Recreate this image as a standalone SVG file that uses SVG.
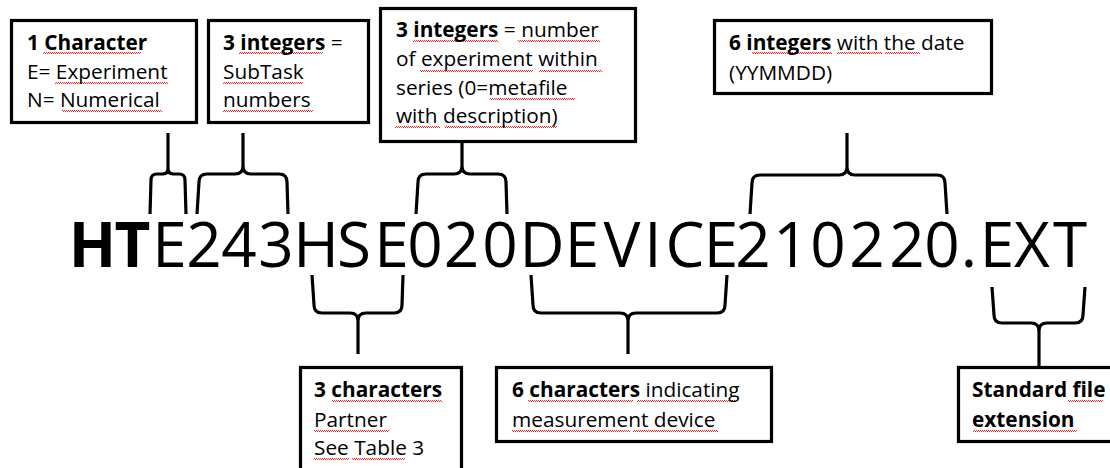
<svg xmlns="http://www.w3.org/2000/svg" width="1110" height="468" viewBox="0 0 1110 468">
  <defs>
    <pattern id="sq" width="2" height="2" patternUnits="userSpaceOnUse">
      <rect x="0" y="0" width="1" height="1" fill="#f02a2a"/>
      <rect x="1" y="1" width="1" height="1" fill="#f02a2a"/>
    </pattern>
  </defs>
  <style>
    .box { fill: #ffffff; stroke: #000000; stroke-width: 3.2; }
    .t { font-family: "Open Sans", "Noto Sans", "Liberation Sans", sans-serif; font-size: 20.8px; fill: #000000; }
    .b { font-weight: bold; }
    .main { font-family: "Open Sans", "Noto Sans", "Liberation Sans", sans-serif; font-size: 62px; fill: #000000; text-anchor: middle; }
    .brace { fill: none; stroke: #000000; stroke-width: 3.2; stroke-linejoin: round; }
    .sq { fill: url(#sq); }
  </style>
  <rect x="0" y="0" width="1110" height="468" fill="#ffffff"/>

  <g id="connectors">
    <path class="brace" d="M150 214 L151 180 Q151 174 157 174 L163 174 Q168 174 168 168 L168 133 M168 168 Q168 174 173 174 L179 174 Q185 174 185 180 L186 214"/>
    <path class="brace" d="M197 214 L199 182 Q199 174 207 174 L235 174 Q243 174 243 166 L243 133 M243 166 Q243 174 251 174 L279 174 Q287 174 287 182 L288 214"/>
    <path class="brace" d="M416 214 L418 182 Q418 174 426 174 L454 174 Q462 174 462 166 L462 142 M462 166 Q462 174 470 174 L498 174 Q506 174 506 182 L507 214"/>
    <path class="brace" d="M750 214 L752 183 Q752 175 760 175 L839 175 Q847 175 847 167 L847 133 M847 167 Q847 175 855 175 L937 175 Q945 175 945 183 L947 214"/>
    <path class="brace" d="M312 275 L314 305 Q314 313 322 313 L350 313 Q358 313 358 321 L358 354 M358 321 Q358 313 366 313 L394 313 Q402 313 402 305 L403 275"/>
    <path class="brace" d="M531 275 L533 305 Q533 313 541 313 L620 313 Q628 313 628 321 L628 354 M628 321 Q628 313 636 313 L717 313 Q725 313 725 305 L727 275"/>
    <path class="brace" d="M992 287 L994 315 Q994 323 1002 323 L1031 323 Q1039 323 1039 331 L1039 367 M1039 331 Q1039 323 1047 323 L1075 323 Q1083 323 1083 315 L1085 287"/>
  </g>

  <g id="filename">
    <text class="main" y="267"><tspan font-weight="bold" x="92.5 132.5">HT</tspan><tspan x="169.5 204 239 276 316 354 391.5 425 461.5 500 542 582 622 653 685 721 753 791 828 867 907 942 969 997 1032 1070">E243HSE020DEVICE210220.EXT</tspan></text>
  </g>

  <g id="box-character">
    <rect class="box" x="11.5" y="20.5" width="185" height="102"/>
    <rect class="sq" x="43" y="52" width="98" height="2"/>
    <rect class="sq" x="55" y="82" width="113" height="2"/>
    <rect class="sq" x="62" y="110" width="100" height="2"/>
    <text class="t" x="27" y="50"><tspan class="b">1 Character</tspan></text>
    <text class="t" x="27" y="79">E= Experiment</text>
    <text class="t" x="27" y="107">N= Numerical</text>
  </g>

  <g id="box-subtask">
    <rect class="box" x="208.5" y="20.5" width="160" height="102"/>
    <rect class="sq" x="239" y="52" width="84" height="2"/>
    <rect class="sq" x="223" y="82" width="80" height="2"/>
    <rect class="sq" x="223" y="110" width="90" height="2"/>
    <text class="t" x="223" y="50"><tspan class="b">3 integers</tspan> =</text>
    <text class="t" x="223" y="79">SubTask</text>
    <text class="t" x="223" y="107">numbers</text>
  </g>

  <g id="box-experiment">
    <rect class="box" x="380.5" y="8.5" width="255" height="133"/>
    <rect class="sq" x="413" y="40" width="85" height="2"/>
    <rect class="sq" x="518" y="40" width="82" height="2"/>
    <rect class="sq" x="420" y="70" width="113" height="2"/>
    <rect class="sq" x="539" y="70" width="63" height="2"/>
    <rect class="sq" x="490" y="98" width="85" height="2"/>
    <rect class="sq" x="395" y="126" width="45" height="2"/>
    <rect class="sq" x="445" y="126" width="112" height="2"/>
    <text class="t" x="396" y="37"><tspan class="b">3 integers</tspan> = number</text>
    <text class="t" x="396" y="66">of experiment within</text>
    <text class="t" x="396" y="95">series (0=metafile</text>
    <text class="t" x="396" y="123">with description)</text>
  </g>

  <g id="box-date">
    <rect class="box" x="714.5" y="20.5" width="277" height="73"/>
    <rect class="sq" x="752" y="52" width="80" height="2"/>
    <rect class="sq" x="837" y="52" width="45" height="2"/>
    <rect class="sq" x="885" y="52" width="35" height="2"/>
    <text class="t" x="729" y="50"><tspan class="b">6 integers</tspan> with the date</text>
    <text class="t" x="729" y="80">(YYMMDD)</text>
  </g>

  <g id="box-partner">
    <rect class="box" x="300.5" y="367.5" width="161" height="112"/>
    <rect class="sq" x="332" y="400" width="110" height="2"/>
    <rect class="sq" x="314" y="430" width="75" height="2"/>
    <rect class="sq" x="314" y="458" width="35" height="2"/>
    <rect class="sq" x="352" y="458" width="53" height="2"/>
    <text class="t" x="314" y="397"><tspan class="b">3 characters</tspan></text>
    <text class="t" x="314" y="427">Partner</text>
    <text class="t" x="314" y="455">See Table 3</text>
  </g>

  <g id="box-device">
    <rect class="box" x="496.5" y="367.5" width="275" height="74"/>
    <rect class="sq" x="528" y="400" width="105" height="2"/>
    <rect class="sq" x="637" y="400" width="100" height="2"/>
    <rect class="sq" x="512" y="430" width="118" height="2"/>
    <rect class="sq" x="633" y="430" width="85" height="2"/>
    <text class="t" x="512" y="397"><tspan class="b">6 characters</tspan> indicating</text>
    <text class="t" x="512" y="427">measurement device</text>
  </g>

  <g id="box-extension">
    <rect class="box" x="958.5" y="367.5" width="160" height="74"/>
    <rect class="sq" x="1068" y="400" width="35" height="2"/>
    <rect class="sq" x="973" y="430" width="104" height="2"/>
    <text class="t b" x="972" y="397">Standard file</text>
    <text class="t b" x="972" y="427">extension</text>
  </g>
</svg>
